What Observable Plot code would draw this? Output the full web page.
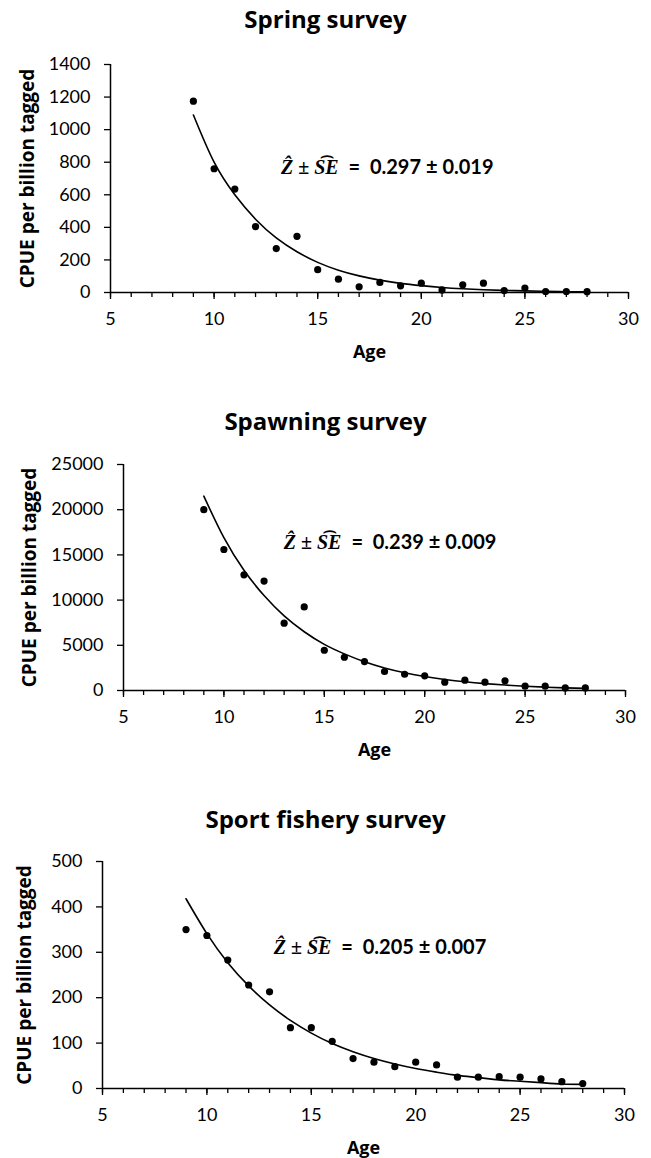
<!DOCTYPE html>
<html>
<head>
<meta charset="utf-8">
<script src="https://cdn.jsdelivr.net/npm/d3@7"></script>
<script src="https://cdn.jsdelivr.net/npm/@observablehq/plot@0.6"></script>
<style>
  body { margin: 0; background: #fff; }
  #root { position: relative; width: 651px; height: 1158px; overflow: hidden; background: #fff; }
  .title { position: absolute; left: 0; width: 651px; text-align: center; font-family: "Open Sans", sans-serif;
           font-weight: bold; font-size: 24px; line-height: 24px; color: #000; }
  .panel { position: absolute; left: 0; }
</style>
</head>
<body>
<div id="root"></div>
<script>
// ---------- data ----------
const ages = [9, 10, 11, 12, 13, 14, 15, 16, 17, 18, 19, 20, 21, 22, 23, 24, 25, 26, 27, 28];

const springCPUE = [1175, 760, 635, 405, 270, 345, 140, 82, 35, 62, 41, 57, 16, 47, 57, 12, 27, 6, 6, 5];
const springFit  = [1090, 800, 600, 450, 335, 250, 185, 137, 102, 76, 56, 42, 31, 23, 17, 13, 10, 7, 5, 4];

const spawningCPUE = [20000, 15600, 12800, 12100, 7450, 9250, 4450, 3680, 3200, 2100, 1800, 1620, 920, 1140, 920, 1070, 480, 480, 290, 290];
const spawningFit  = [21500, 16900, 13300, 10500, 8250, 6500, 5100, 4050, 3180, 2500, 1970, 1550, 1220, 960, 760, 600, 470, 370, 290, 230];

const sportCPUE = [350, 337, 283, 228, 213, 134, 134, 104, 66, 58, 48, 58, 52, 25, 25, 26, 25, 21, 15, 11];
const sportFit  = [418, 341, 277, 226, 184, 150, 122, 99, 81, 66, 54, 44, 36, 29, 24, 19, 16, 13, 10, 9];

const titles = ["Spring survey", "Spawning survey", "Sport fishery survey"];
const zHat = ["0.297", "0.239", "0.205"];
const seHat = ["0.019", "0.009", "0.007"];

const springYTicks = [0, 200, 400, 600, 800, 1000, 1200, 1400];
const spawningYTicks = [0, 5000, 10000, 15000, 20000, 25000];
const sportYTicks = [0, 100, 200, 300, 400, 500];

const xMajorTicks = [5, 10, 15, 20, 25, 30];
const xMinorTicks = [5, 6, 7, 8, 9, 10, 11, 12, 13, 14, 15, 16, 17, 18, 19, 20, 21, 22, 23, 24, 25, 26, 27, 28, 29, 30];

// annotation anchor (age, CPUE) where the "=" sign sits
const annotAge = [16.25, 16.1, 16.2];
const annotCPUE = [769, 16400, 310];

const xLabel = "Age";
const yLabel = "CPUE per billion tagged";

// ---------- layout ----------
const W = 651;
const layouts = [
  { left: 110, right: 628, top: 64,    bottom: 292,    titleTop: 7,     yLabX: 20 },
  { left: 123, right: 625, top: 464,   bottom: 690,    titleTop: 408.5, yLabX: 21.5 },
  { left: 102, right: 624, top: 860.5, bottom: 1087.5, titleTop: 806.5, yLabX: 17 }
];
const series = [
  { cpue: springCPUE, fit: springFit, yTicks: springYTicks },
  { cpue: spawningCPUE, fit: spawningFit, yTicks: spawningYTicks },
  { cpue: sportCPUE, fit: sportFit, yTicks: sportYTicks }
];

const root = document.getElementById("root");
const MT = 20, MB = 70;

series.forEach((s, i) => {
  const L = layouts[i];
  const rows = ages.map((a, k) => ({ age: a, cpue: s.cpue[k], fit: s.fit[k] }));
  const yMax = s.yTicks[s.yTicks.length - 1];
  const inner = L.bottom - L.top;
  const stat = [{ age: annotAge[i], cpue: annotCPUE[i], z: zHat[i], se: seHat[i] }];

  const chart = Plot.plot({
    width: W,
    height: MT + inner + MB,
    marginTop: MT,
    marginBottom: MB,
    marginLeft: L.left,
    marginRight: W - L.right,
    style: { fontFamily: "Lato, sans-serif", fontSize: "18px", color: "#000", background: "transparent", overflow: "visible" },
    x: { domain: [5, 30] },
    y: { domain: [0, yMax] },
    marks: [
      Plot.axisY({ ticks: s.yTicks, tickSize: 6, tickPadding: 14, tickFormat: d => String(d), label: null, strokeWidth: 1.3 }),
      Plot.axisX({ ticks: xMinorTicks, tickSize: 5, tickFormat: () => "", label: null, strokeWidth: 1.3 }),
      Plot.axisX({ ticks: xMajorTicks, tickSize: 7, tickPadding: 13, tickFormat: d => String(d), label: null, strokeWidth: 1.3 }),
      Plot.ruleY([0], { stroke: "#000", strokeWidth: 1.5 }),
      Plot.ruleX([5], { stroke: "#000", strokeWidth: 1.5 }),
      Plot.line(rows, { x: "age", y: "fit", curve: "natural", stroke: "#000", strokeWidth: 1.6 }),
      Plot.dot(rows, { x: "age", y: "cpue", r: 3.6, fill: "#000", stroke: "none" }),
      Plot.text(stat, { x: "age", y: "cpue", text: () => "Ẑ ± S\u0361E", textAnchor: "end", dx: -5,
        fontFamily: "Liberation Serif, DejaVu Serif, serif", fontStyle: "italic", fontWeight: "bold", fontSize: 20, fill: "#000" }),
      Plot.text(stat, { x: "age", y: "cpue", text: d => `=  ${d.z} ± ${d.se}`, textAnchor: "start", dx: 5,
        fontWeight: "bold", fontSize: 20, fill: "#000" }),
      Plot.text([xLabel], { text: d => d, frameAnchor: "bottom", textAnchor: "middle", dy: 53, lineAnchor: "top",
        fontFamily: "Open Sans, sans-serif", fontWeight: "bold", fontSize: 18, fill: "#000" }),
      Plot.text([yLabel], { text: d => d, frameAnchor: "left", textAnchor: "middle", rotate: -90, lineAnchor: "top",
        dx: L.yLabX - L.left, fontFamily: "Open Sans, sans-serif", fontWeight: "bold", fontSize: 19, fill: "#000" })
    ]
  });
  chart.classList.add("panel");
  chart.style.top = (L.top - MT) + "px";
  root.appendChild(chart);

  const t = document.createElement("div");
  t.className = "title";
  t.style.top = L.titleTop + "px";
  t.textContent = titles[i];
  root.appendChild(t);
});
</script>
</body>
</html>
